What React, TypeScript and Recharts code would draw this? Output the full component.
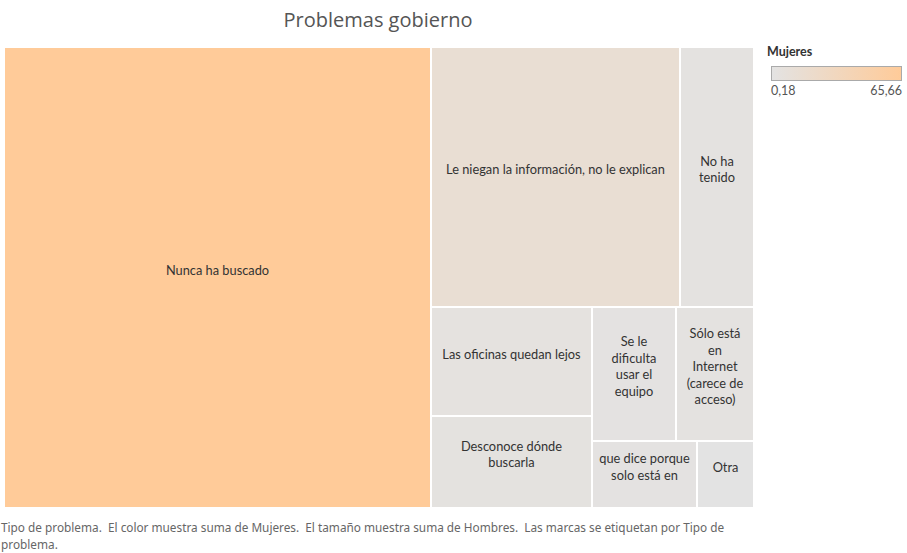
import { Treemap } from 'recharts';

// Tipo de problema
const categories = [
  'Nunca ha buscado',
  'Le niegan la información, no le explican',
  'No ha tenido',
  'Las oficinas quedan lejos',
  'Desconoce dónde buscarla',
  'Se le dificulta usar el equipo',
  'Sólo está en Internet (carece de acceso)',
  'que dice porque solo está en',
  'Otra',
];
// size = suma de Hombres, color = suma de Mujeres
const hombres = [56.75, 18.72, 5.56, 5.06, 4.28, 3.26, 3.02, 2.03, 1.11];
const mujeres = [65.66, 14.5, 2.4, 3.8, 3.3, 2.2, 2.6, 1.6, 0.18];
const colorMin = 0.18;
const colorMax = 65.66;
const legendLabels = ['0,18', '65,66'];

const LOW = [227, 227, 227];
const HIGH = [255, 203, 153];

const colorFor = (v: number) => {
  const t = Math.max(0, Math.min(1, (v - colorMin) / (colorMax - colorMin)));
  const c = LOW.map((l, i) => Math.round(l + (HIGH[i] - l) * t));
  return `rgb(${c[0]},${c[1]},${c[2]})`;
};

const data = categories.map((name, i) => ({
  name,
  hombres: hombres[i],
  mujeres: mujeres[i],
}));

const LABEL_SIZE = 12.8;
let ctx: CanvasRenderingContext2D | null = null;
const measure = (s: string) => {
  if (!ctx) ctx = document.createElement('canvas').getContext('2d');
  // tableau's font has wider capitals than Lato, pad them a bit
  const caps = (s.match(/[A-ZÁÉÍÓÚÑ]/g) || []).length * 3;
  if (!ctx) return s.length * 6.5 + caps;
  ctx.font = `${LABEL_SIZE}px Lato`;
  return ctx.measureText(s).width + caps;
};

// simple word wrap, like tableau does inside each mark
const wrap = (text: string, maxW: number) => {
  const words = text.split(' ');
  const lines: string[] = [];
  let cur = '';
  for (const w of words) {
    const t = cur ? cur + ' ' + w : w;
    if (!cur || measure(t) <= maxW) cur = t;
    else {
      lines.push(cur);
      cur = w;
    }
  }
  if (cur) lines.push(cur);
  return lines;
};

const CellContent = (props: any) => {
  const { x, y, width, height, depth, name, mujeres: m } = props;
  if (depth !== 1) return null;
  const lines = wrap(name, width - 14);
  const lh = 16.5;
  const cy = y + height / 2 - 8;
  const y0 = cy - ((lines.length - 1) * lh) / 2;
  return (
    <g>
      <rect x={x} y={y} width={width} height={height} fill={colorFor(m)} stroke="#fff" strokeWidth={2} />
      {lines.map((l, i) => (
        <text
          key={i}
          x={x + width / 2}
          y={y0 + i * lh}
          textAnchor="middle"
          dominantBaseline="central"
          fontFamily="Lato"
          fontSize={LABEL_SIZE}
          fill="#333"
          stroke="none"
        >
          {l}
        </text>
      ))}
    </g>
  );
};

export default function App() {
  return (
    <div style={{ position: 'absolute', left: 0, top: 0, width: 907, height: 553, background: '#fff' }}>
      <div
        style={{
          position: 'absolute',
          left: 0,
          width: 756,
          top: 6,
          textAlign: 'center',
          fontFamily: 'Open Sans',
          fontSize: 20,
          color: '#555',
        }}
      >
        Problemas gobierno
      </div>
      <div style={{ position: 'absolute', left: 4, top: 47 }}>
        <Treemap
          width={750}
          height={461}
          data={data}
          dataKey="hombres"
          nameKey="name"
          stroke="#fff"
          isAnimationActive={false}
          content={<CellContent />}
        />
      </div>
      <svg style={{ position: 'absolute', left: 760, top: 44 }} width={147} height={60}>
        <defs>
          <linearGradient id="lg" x1="0" x2="1" y1="0" y2="0">
            <stop offset="0%" stopColor={colorFor(colorMin)} />
            <stop offset="100%" stopColor={colorFor(colorMax)} />
          </linearGradient>
        </defs>
        <text x={7} y={12} fontFamily="Lato" fontSize={12.5} fontWeight="bold" fill="#333">
          Mujeres
        </text>
        <rect x={11.5} y={22.5} width={130} height={14} fill="url(#lg)" stroke="#aaa" />
        <text x={11} y={51} fontFamily="Lato" fontSize={12.5} fill="#555">
          {legendLabels[0]}
        </text>
        <text x={142} y={51} fontFamily="Lato" fontSize={12.5} fill="#555" textAnchor="end">
          {legendLabels[1]}
        </text>
      </svg>
      <div
        style={{
          position: 'absolute',
          left: 1,
          top: 519,
          fontFamily: 'Noto Sans',
          fontSize: 11.8,
          lineHeight: '17px',
          color: '#666',
          whiteSpace: 'pre',
        }}
      >
        {'Tipo de problema.  El color muestra suma de Mujeres.  El tamaño muestra suma de Hombres.  Las marcas se etiquetan por Tipo de\nproblema.'}
      </div>
    </div>
  );
}
